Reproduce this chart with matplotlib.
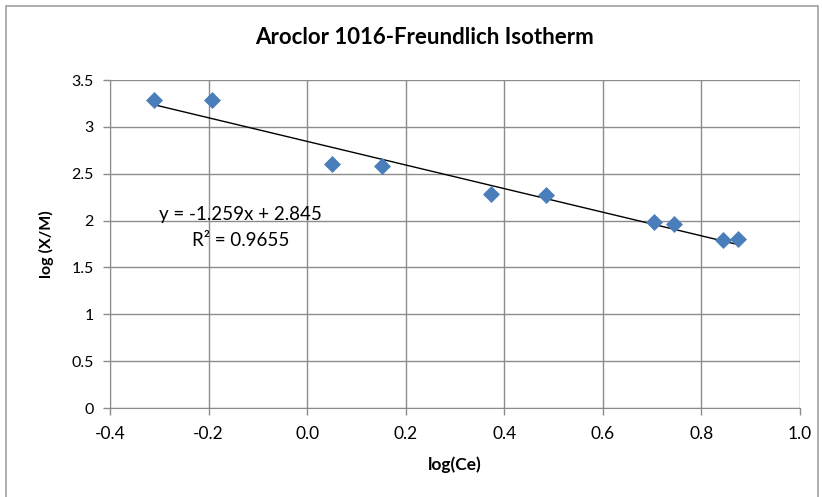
import matplotlib.pyplot as plt
from matplotlib.patches import Rectangle
import numpy as np

log_ce = [-0.311, -0.194, 0.051, 0.152, 0.373, 0.484, 0.704, 0.745, 0.845, 0.874]
log_xm = [3.287, 3.287, 2.604, 2.579, 2.285, 2.275, 1.988, 1.964, 1.790, 1.800]
slope, intercept = -1.259, 2.845
x_ticks = np.arange(-0.4, 1.01, 0.2)
y_ticks = np.arange(0, 3.51, 0.5)

plt.rcParams['font.family'] = ['Lato', 'DejaVu Sans']

fig = plt.figure(figsize=(8.22, 4.97), dpi=100)
ax = fig.add_axes([0.134, 0.179, 0.839, 0.660])

# outer chart border
fig.patches.append(Rectangle((6 / 822, -0.01), 812 / 822, 0.998, transform=fig.transFigure,
                             fill=False, edgecolor="#a0a0a0", linewidth=1.2))

ax.scatter(log_ce, log_xm, marker="D", s=75, color="#4a7ebb", zorder=3, linewidths=0)

xs = np.array([min(log_ce), max(log_ce)])
ax.plot(xs, slope * xs + intercept, color="black", linewidth=1, zorder=2)

ax.text(-0.135, 2.06, "y = -1.259x + 2.845", ha="center", va="center", fontsize=13.5)
ax.text(-0.135, 1.79, "R² = 0.9655", ha="center", va="center", fontsize=13.5)

ax.set_xlim(-0.4, 1.0)
ax.set_ylim(0, 3.5)
ax.set_xticks(x_ticks)
ax.set_xticklabels([f"{v:.1f}" for v in x_ticks])
ax.set_yticks(y_ticks)
ax.set_yticklabels([f"{v:g}" for v in y_ticks])
ax.grid(True, color="#8c8c8c", linewidth=1)
ax.set_axisbelow(True)
for side in ["top", "right"]:
    ax.spines[side].set_visible(False)
for side in ["left", "bottom"]:
    ax.spines[side].set_color("#8c8c8c")
ax.tick_params(colors="#8c8c8c", labelcolor="black", length=5, width=1)
ax.tick_params(axis="x", labelsize=12.5, pad=8)
ax.tick_params(axis="y", labelsize=11.5, pad=7)

ax.set_xlabel("log(Ce)", fontsize=12.5, fontweight="bold", labelpad=10)
ax.set_ylabel("log (X/M)", fontsize=11.5, fontweight="bold", labelpad=12)
fig.text(424 / 822, 1 - 38 / 497, "Aroclor 1016-Freundlich Isotherm", ha="center", va="center",
         fontsize=16, fontweight="bold")

fig.savefig("out.png")
